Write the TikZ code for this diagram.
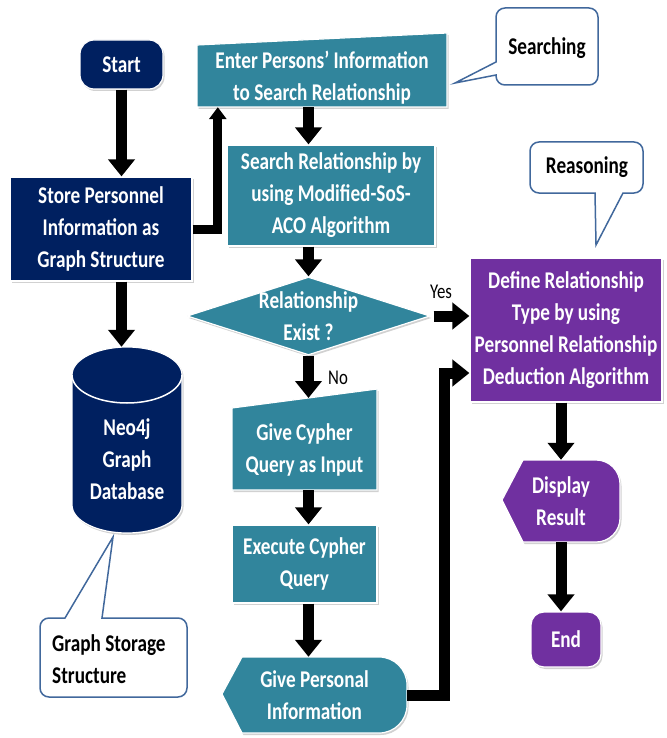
\documentclass[tikz,border=0pt]{standalone}
\usepackage{fontspec}
\setmainfont{Carlito}[FakeStretch=0.8]
\usetikzlibrary{arrows.meta,shapes.geometric,shadows,calc}
\definecolor{flowNavy}{HTML}{002060}
\definecolor{flowTeal}{HTML}{31859C}
\definecolor{flowPurple}{HTML}{7030A0}
\definecolor{noteBlue}{HTML}{41689C}
\begin{document}
\begin{tikzpicture}[x=1pt,y=-1pt,
  softshadow/.style={drop shadow={shadow xshift=1.5pt,shadow yshift=-2pt,opacity=.3,fill=black!60}},
  shapefill/.style={draw=white,line width=1.2pt,softshadow},
  wtext/.style={text=white,font=\bfseries\fontsize{24}{32}\selectfont,align=center,inner sep=0},
  btext/.style={text=black,font=\bfseries\fontsize{24}{32}\selectfont,inner sep=0},
  block/.style={shapefill,wtext},
  flow/.style={line width=11pt,-{Triangle[width=26pt,length=17pt]}},
  note/.style={draw=noteBlue,line width=1.5pt,fill=white},
  branch/.style={font=\fontsize{21}{24}\selectfont,inner sep=0}
]
\useasboundingbox (0,0) rectangle (666,738);

% ---- left column: storage ----
\node[block,fill=flowNavy,rounded corners=14pt,minimum width=83pt,minimum height=49pt] (start) at (121.5,64.5) {Start};
\node[block,fill=flowNavy,minimum width=182pt,minimum height=104pt] (store) at (101,229) {Store Personnel\\Information as\\Graph Structure};

% database cylinder
\fill[flowNavy,shapefill] (72,375) -- (72,505) arc[start angle=180,end angle=0,x radius=55,y radius=28]
  -- (182,375) arc[start angle=0,end angle=-180,x radius=55,y radius=28] -- cycle;
\draw[white,line width=1.5pt] (72,375) arc[start angle=180,end angle=0,x radius=55,y radius=28];
\node[inner sep=0,minimum width=110pt,minimum height=186pt] (db) at (127,440) {};
\node[wtext] (dbText) at (127,459) {Neo4j\\Graph\\Database};

% ---- middle column: searching ----
\fill[flowTeal,shapefill] (197,45) -- (447,33) -- (447,107) -- (197,107) -- cycle;
\node[wtext,minimum width=250pt,minimum height=59pt] (enter) at (322,77.5) {Enter Persons’ Information\\to Search Relationship};

\node[block,fill=flowTeal,minimum width=208pt,minimum height=101pt] (search) at (331,195.5) {Search Relationship by\\using Modified-SoS-\\ACO Algorithm};

\node[diamond,shapefill,fill=flowTeal,minimum width=243pt,minimum height=78pt,inner sep=0] (dec) at (308.5,316) {};
\node[wtext] (decText) at (dec.center) {Relationship\\Exist ?};

\fill[flowTeal,shapefill] (232,408) -- (377,389) -- (377,490) -- (232,490) -- cycle;
\node[wtext,minimum width=145pt,minimum height=80pt] (cypher) at (304.5,450) {Give Cypher\\Query as Input};
\coordinate (cypherTop) at (308.5,398);

\node[block,fill=flowTeal,minimum width=145pt,minimum height=78pt] (exec) at (304.5,564) {Execute Cypher\\Query};

\fill[flowTeal,shapefill] (222,694) -- (242,657) [rounded corners=28pt] -- (407,657) -- (407,733) [sharp corners] -- (242,733) -- cycle;
\node[wtext,minimum width=185pt,minimum height=76pt] (personal) at (314.5,695) {Give Personal\\Information};

% ---- right column: reasoning ----
\node[block,fill=flowPurple,minimum width=192pt,minimum height=144pt] (define) at (566,330) {Define Relationship\\Type by using\\Personnel Relationship\\Deduction Algorithm};

\fill[flowPurple,shapefill] (502,500) -- (523,460) [rounded corners=24pt] -- (620,460) -- (620,542) [sharp corners] -- (523,542) -- cycle;
\node[wtext,minimum width=118pt,minimum height=82pt] (display) at (561,501) {Display\\Result};

\node[block,fill=flowPurple,rounded corners=13pt,minimum width=70pt,minimum height=55pt] (finish) at (566,639.5) {End};

% ---- callouts ----
\draw[note] (496,40) [rounded corners=9pt] -- (496,8) -- (598,8) -- (598,85) -- (496,85) [sharp corners] -- (496,75) -- (455,83) -- (496,62) -- cycle;
\node[btext] (searching) at (547,48) {Searching};

\draw[note] (560,142) [rounded corners=9pt] -- (643,142) -- (643,193) [sharp corners] -- (623,193) -- (596,245) -- (595,193) [rounded corners=9pt] -- (530,193) -- (530,142) -- cycle;
\node[btext] (reasoning) at (587,167) {Reasoning};

\draw[note] (40,660) [rounded corners=9pt] -- (40,618) [sharp corners] -- (65,618) -- (113,537) -- (102,618) [rounded corners=9pt] -- (187,618) -- (187,697) -- (40,697) -- cycle;
\node[btext,align=left,anchor=west] (storageNote) at (52,659) {Graph Storage\\Structure};

% ---- connectors ----
\draw[flow] (start.south) -- (start.south |- store.north);
\draw[flow] (start.south |- store.south) -- (start.south |- db.north);
\draw[flow,line width=9pt,-{Triangle[width=17pt,length=12pt]}] (store.east) -| ([xshift=21pt]enter.south west);
\draw[flow] (enter.south -| dec) -- (search.north -| dec);
\draw[flow] (search.south -| dec) -- (dec.north);
\draw[flow] ([xshift=3pt]dec.east) -- (dec.east -| define.west);
\node[branch] (yes) at (441,292) {Yes};
\draw[flow] (dec.south) -- (cypherTop);
\node[branch] (no) at (338,378) {No};
\draw[flow] (cypher.south -| dec) -- (exec.north -| dec);
\draw[flow] (exec.south -| dec) -- (personal.north -| dec);
\coordinate (feedIn) at ([yshift=-43pt]define.west);
\draw[flow] (personal.east) -| ($(feedIn)+(-25,0)$) -- (feedIn);
\draw[flow] (define.south -| display) -- (display.north);
\draw[flow] (display.south) -- (display.south |- finish.north);
\end{tikzpicture}
\end{document}
